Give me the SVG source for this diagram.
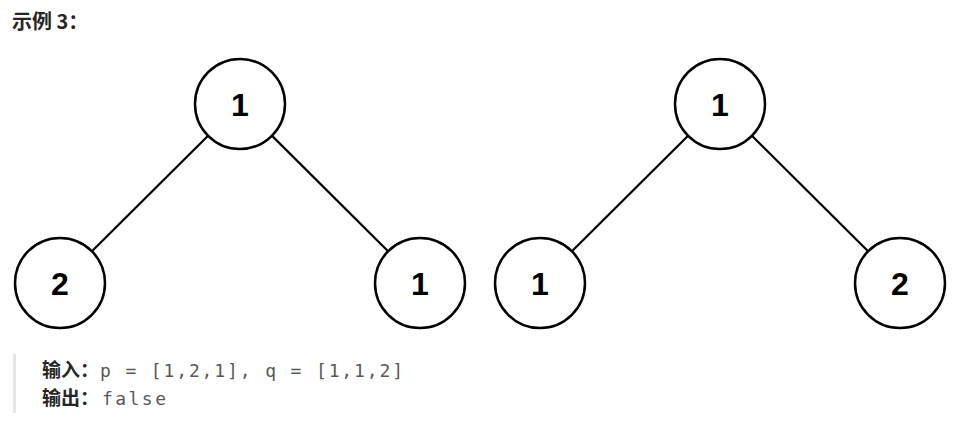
<svg xmlns="http://www.w3.org/2000/svg" width="967" height="438" viewBox="0 0 967 438">
<style>
.n circle{fill:#fff;stroke:#000;stroke-width:2.5}
.n text{font-family:"Liberation Sans",Arial,sans-serif;font-weight:bold;font-size:32px;fill:#000;text-anchor:middle}
.e line{stroke:#000;stroke-width:2.2}
.h{font-family:"Noto Sans CJK SC","Noto Sans",sans-serif;font-weight:bold;fill:#262626}
.m{font-family:"DejaVu Sans Mono","Liberation Mono",monospace;font-size:18px;fill:#595959}
</style>
<rect width="967" height="438" fill="#fff"/>
<text class="h" x="12" y="29" font-size="20">示例 3：</text>
<g id="edges" class="e">
<line x1="240" y1="104" x2="60" y2="283"/>
<line x1="240" y1="104" x2="420" y2="283"/>
<line x1="720" y1="104" x2="540" y2="283"/>
<line x1="720" y1="104" x2="900" y2="283"/>
</g>
<g id="p1" class="n"><circle cx="240" cy="104" r="45"/><text x="240" y="116">1</text></g>
<g id="p2" class="n"><circle cx="60" cy="283" r="45"/><text x="60" y="295">2</text></g>
<g id="p3" class="n"><circle cx="420" cy="283" r="45"/><text x="420" y="295">1</text></g>
<g id="q1" class="n"><circle cx="720" cy="104" r="45"/><text x="720" y="116">1</text></g>
<g id="q2" class="n"><circle cx="540" cy="283" r="45"/><text x="540" y="295">1</text></g>
<g id="q3" class="n"><circle cx="900" cy="283" r="45"/><text x="900" y="295">2</text></g>
<rect x="13" y="354" width="3" height="59" fill="#e6e6e6"/>
<text class="h" x="42" y="377" font-size="19">输入：</text>
<text class="m" x="100" y="377" textLength="303" lengthAdjust="spacing">p = [1,2,1], q = [1,1,2]</text>
<text class="h" x="42" y="405" font-size="19">输出：</text>
<text class="m" x="102" y="405" textLength="64" lengthAdjust="spacing">false</text>
</svg>
